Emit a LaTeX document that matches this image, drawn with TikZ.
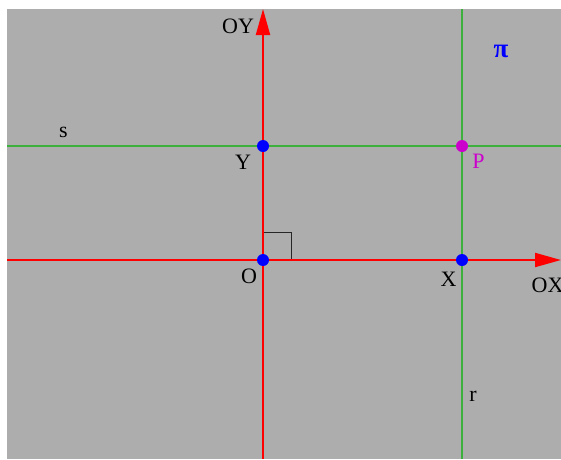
\documentclass[tikz,border=0pt]{standalone}
\usepackage{fontspec}
\setmainfont{Liberation Serif}
\usetikzlibrary{arrows.meta}
\definecolor{bggray}{RGB}{173,173,173}
\definecolor{lgreen}{RGB}{60,175,60}
\definecolor{pmag}{RGB}{204,0,204}
\tikzset{
  axis/.style={draw=red, line width=2pt, -{Triangle[length=26pt,width=14pt]}},
  gline/.style={draw=lgreen, line width=1.3pt},
  pt/.style={circle, inner sep=0pt, minimum size=12pt, fill=#1},
  lbl/.style={inner sep=0pt, anchor=base, font=\fontsize{22}{25}\selectfont}
}
\begin{document}
\begin{tikzpicture}[x=1pt,y=-1pt]
\useasboundingbox (0,0) rectangle (561,459);
\fill[bggray] (7,9) rectangle (561,459);
% coordinates
\coordinate (sL) at (7,146);
\coordinate (sR) at (561,146);
\coordinate (rT) at (462,9);
\coordinate (rB) at (462,459);
\coordinate (xL) at (7,260);
\coordinate (xR) at (561,260);
\coordinate (yB) at (263,459);
\coordinate (yT) at (263,9);
% green lines
\draw[gline] (sL) -- (sR);
\draw[gline] (rT) -- (rB);
% right angle
\draw[black!85, line width=0.9pt] (263,232) -- (291.5,232) -- (291.5,260);
% axes
\draw[axis] (xL) -- (xR);
\draw[axis] (yB) -- (yT);
% points
\node[pt=blue] (Y) at (263,146) {};
\node[pt=pmag] (P) at (462,146) {};
\node[pt=blue] (O) at (263,260) {};
\node[pt=blue] (X) at (462,260) {};
% labels
\node[lbl] (lOY) at (238,33) {OY};
\node[lbl] (ls) at (63.5,137) {s};
\node[lbl] (lY) at (243,169) {Y};
\node[lbl, text=pmag] (lP) at (478.5,168.5) {P};
\node[lbl, text=blue, font=\fontsize{27}{30}\selectfont] (lpi) at (501,57) {\textbf{π}};
\node[lbl] (lO) at (249,283) {O};
\node[lbl] (lX) at (448.5,286) {X};
\node[lbl, anchor=base west] (lOX) at (531.5,292) {OX};
\node[lbl] (lr) at (473,401) {r};
\end{tikzpicture}
\end{document}
